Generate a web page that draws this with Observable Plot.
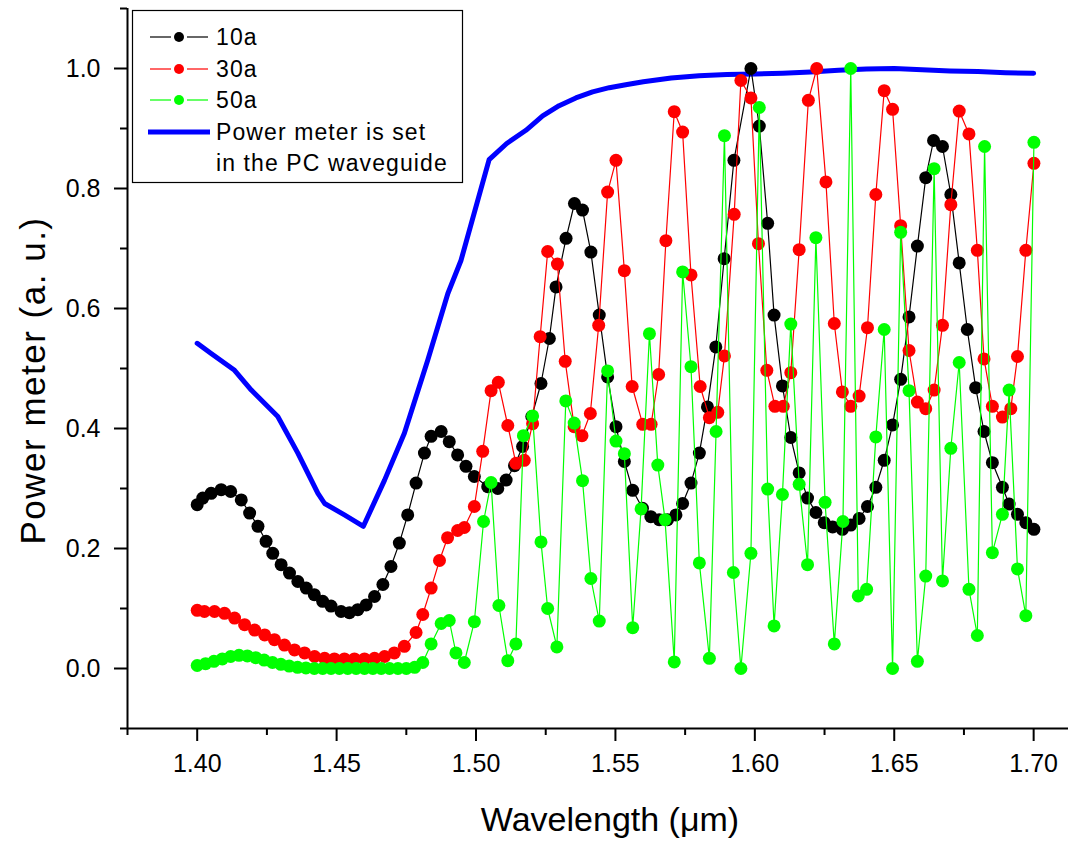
<!DOCTYPE html>
<html><head><meta charset="utf-8">
<script src="https://cdn.jsdelivr.net/npm/d3@7"></script>
<script src="https://cdn.jsdelivr.net/npm/@observablehq/plot@0.6"></script>
<style>
body{margin:0;background:#fff;}
#wrap{position:relative;width:1068px;height:845px;}
#legend{position:absolute;left:0;top:0;pointer-events:none;}
</style></head><body><div id="wrap"></div>
<script>
// Tick values
const xMajor = [1.40,1.45,1.50,1.55,1.60,1.65,1.70];
const xMinor = [1.375,1.425,1.475,1.525,1.575,1.625,1.675];
const yMajor = [0,0.2,0.4,0.6,0.8,1.0];
const yMinor = [-0.1,0.1,0.3,0.5,0.7,0.9,1.1];
const xTitle = "Wavelength (\u03bcm)";
const yTitle = "Power meter (a. u.)";
const legendLabels = ["10a","30a","50a"];
const legendPM = ["Power meter is set","in the PC waveguide"];

// Series: [wavelength (um), normalized power]
const s10 = [[1.400,0.273],[1.402,0.284],[1.405,0.292],[1.4086,0.298],[1.412,0.295],[1.4158,0.281],[1.4188,0.259],[1.4218,0.237],[1.4247,0.212],[1.4271,0.192],[1.4301,0.173],[1.4331,0.159],[1.4361,0.145],[1.4391,0.134],[1.442,0.123],[1.445,0.112],[1.448,0.104],[1.4516,0.095],[1.4546,0.093],[1.4576,0.098],[1.4606,0.106],[1.4636,0.120],[1.4666,0.140],[1.4695,0.170],[1.4725,0.209],[1.4755,0.256],[1.4785,0.309],[1.4815,0.359],[1.4839,0.387],[1.4875,0.395],[1.4904,0.378],[1.4934,0.356],[1.4964,0.337],[1.4994,0.320],[1.5042,0.303],[1.5078,0.300],[1.5108,0.314],[1.5138,0.338],[1.5167,0.370],[1.5200,0.420],[1.5233,0.475],[1.5263,0.550],[1.5287,0.636],[1.5323,0.717],[1.5353,0.775],[1.5382,0.764],[1.5412,0.694],[1.5442,0.589],[1.5472,0.486],[1.5502,0.403],[1.5532,0.345],[1.5562,0.297],[1.5597,0.267],[1.5627,0.253],[1.5657,0.248],[1.5687,0.248],[1.5717,0.256],[1.5741,0.275],[1.5771,0.309],[1.5801,0.359],[1.5830,0.436],[1.5860,0.536],[1.5890,0.683],[1.5925,0.847],[1.5986,1.000],[1.6016,0.904],[1.6046,0.742],[1.6069,0.589],[1.6099,0.471],[1.6129,0.385],[1.6159,0.326],[1.6189,0.284],[1.6219,0.260],[1.6249,0.243],[1.6279,0.236],[1.6314,0.232],[1.6344,0.239],[1.6374,0.250],[1.6404,0.270],[1.6434,0.302],[1.6464,0.347],[1.6494,0.406],[1.6523,0.482],[1.6553,0.586],[1.6583,0.704],[1.6613,0.818],[1.6641,0.880],[1.6673,0.870],[1.6703,0.790],[1.6733,0.676],[1.6762,0.565],[1.6792,0.468],[1.6822,0.395],[1.6852,0.343],[1.6888,0.302],[1.6912,0.274],[1.6942,0.257],[1.6972,0.243],[1.7001,0.232]];

const s30 = [[1.400,0.097],[1.4026,0.095],[1.4062,0.095],[1.4098,0.092],[1.4134,0.084],[1.4170,0.073],[1.4206,0.064],[1.4242,0.056],[1.4277,0.048],[1.4313,0.039],[1.4349,0.031],[1.4385,0.026],[1.4421,0.020],[1.4457,0.017],[1.4492,0.016],[1.4528,0.016],[1.4564,0.016],[1.4600,0.016],[1.4636,0.017],[1.4672,0.020],[1.4707,0.026],[1.4743,0.037],[1.4785,0.060],[1.4809,0.090],[1.4839,0.134],[1.4869,0.180],[1.4898,0.218],[1.4934,0.230],[1.4958,0.235],[1.4994,0.270],[1.5024,0.362],[1.5054,0.463],[1.5080,0.477],[1.5114,0.405],[1.5143,0.342],[1.5173,0.347],[1.5203,0.408],[1.5230,0.553],[1.5257,0.695],[1.5292,0.674],[1.5320,0.512],[1.5352,0.403],[1.5380,0.388],[1.5410,0.425],[1.5440,0.572],[1.5472,0.794],[1.5502,0.847],[1.5532,0.663],[1.5560,0.470],[1.5598,0.407],[1.5628,0.407],[1.5655,0.490],[1.5681,0.713],[1.5711,0.928],[1.5741,0.894],[1.5771,0.656],[1.5804,0.470],[1.5837,0.418],[1.5867,0.427],[1.5891,0.521],[1.5926,0.757],[1.5950,0.980],[1.5986,0.951],[1.6013,0.708],[1.6043,0.497],[1.6072,0.437],[1.6102,0.437],[1.6129,0.493],[1.6159,0.698],[1.6192,0.947],[1.6222,1.000],[1.6255,0.811],[1.6285,0.575],[1.6314,0.461],[1.6344,0.437],[1.6374,0.454],[1.6404,0.568],[1.6434,0.790],[1.6464,0.963],[1.6494,0.932],[1.6523,0.738],[1.6553,0.530],[1.6583,0.444],[1.6613,0.433],[1.6643,0.464],[1.6673,0.572],[1.6703,0.773],[1.6733,0.929],[1.6768,0.891],[1.6798,0.697],[1.6822,0.516],[1.6852,0.437],[1.6888,0.419],[1.6918,0.433],[1.6942,0.520],[1.6972,0.697],[1.7001,0.842]];

const s50 = [[1.400,0.005],[1.403,0.008],[1.406,0.012],[1.409,0.016],[1.412,0.020],[1.415,0.022],[1.418,0.021],[1.421,0.018],[1.424,0.014],[1.427,0.010],[1.430,0.007],[1.433,0.004],[1.436,0.002],[1.439,0.001],[1.442,0.0],[1.445,0.0],[1.448,0.0],[1.451,0.0],[1.454,0.0],[1.457,0.0],[1.460,0.0],[1.463,0.0],[1.466,0.0],[1.469,0.0],[1.472,0.0],[1.475,0.0],[1.478,0.002],[1.4809,0.010],[1.4839,0.041],[1.4875,0.075],[1.4904,0.080],[1.4928,0.026],[1.4958,0.010],[1.4994,0.078],[1.5027,0.245],[1.5054,0.310],[1.5082,0.105],[1.5114,0.013],[1.5143,0.041],[1.5170,0.388],[1.5203,0.421],[1.5233,0.211],[1.5257,0.100],[1.5290,0.036],[1.5322,0.446],[1.5352,0.409],[1.5382,0.313],[1.5412,0.150],[1.5442,0.079],[1.5472,0.496],[1.5502,0.379],[1.5532,0.358],[1.5562,0.068],[1.5592,0.266],[1.5622,0.558],[1.5652,0.339],[1.5678,0.248],[1.5711,0.011],[1.5741,0.661],[1.5771,0.503],[1.5801,0.176],[1.5837,0.017],[1.5861,0.395],[1.5891,0.888],[1.5923,0.160],[1.5950,0.000],[1.5986,0.192],[1.6016,0.935],[1.6046,0.299],[1.6069,0.071],[1.6099,0.290],[1.6129,0.574],[1.6159,0.307],[1.6189,0.173],[1.6219,0.718],[1.6252,0.277],[1.6285,0.041],[1.6316,0.245],[1.6344,1.000],[1.6371,0.121],[1.6401,0.132],[1.6434,0.386],[1.6464,0.565],[1.6494,0.000],[1.6523,0.727],[1.6553,0.463],[1.6583,0.012],[1.6613,0.154],[1.6643,0.833],[1.6673,0.146],[1.6703,0.367],[1.6733,0.510],[1.6768,0.132],[1.6798,0.055],[1.6824,0.870],[1.6852,0.193],[1.6888,0.257],[1.6912,0.464],[1.6942,0.166],[1.6972,0.088],[1.7001,0.877]];

const pm = [[1.400,0.542],[1.405,0.525],[1.4134,0.497],[1.4194,0.464],[1.4289,0.420],[1.4361,0.359],[1.4433,0.292],[1.4457,0.275],[1.4528,0.256],[1.4596,0.237],[1.4672,0.314],[1.4743,0.392],[1.4827,0.514],[1.4899,0.625],[1.4946,0.680],[1.5047,0.848],[1.5110,0.875],[1.5179,0.897],[1.5239,0.921],[1.5298,0.938],[1.5358,0.951],[1.5418,0.961],[1.5478,0.968],[1.5537,0.973],[1.5600,0.978],[1.5700,0.984],[1.5800,0.988],[1.5900,0.990],[1.6000,0.991],[1.6100,0.992],[1.6200,0.994],[1.6300,0.997],[1.6400,0.999],[1.6500,1.000],[1.6600,0.998],[1.6700,0.996],[1.6800,0.995],[1.6900,0.993],[1.7000,0.992]];

const colors = ["#000000","#ff0000","#00ff00"];
const pmColor = "#0000ff";
const FONT = "'Liberation Sans', Arial, Helvetica, sans-serif";

const toObj = arr => arr.map(([wl,p]) => ({wl, p}));
const seriesMarks = [];
[s10, s30, s50].forEach((s, i) => {
  const data = toObj(s);
  seriesMarks.push(Plot.line(data, {x:"wl", y:"p", stroke: colors[i], strokeWidth: 1.2}));
  seriesMarks.push(Plot.dot(data, {x:"wl", y:"p", fill: colors[i], r: 6.5}));
});

const chart = Plot.plot({
  width: 1068, height: 845,
  marginLeft: 127, marginRight: 0, marginTop: 8, marginBottom: 117,
  style: {fontFamily: FONT, fontSize: "25px", background: "#fff", color: "#000"},
  x: {domain: [1.375, 1.7125]},
  y: {domain: [-0.1, 1.1]},
  marks: [
    Plot.line(toObj(pm), {x:"wl", y:"p", stroke: pmColor, strokeWidth: 5, strokeLinejoin: "round"}),
    ...seriesMarks,
    Plot.ruleX([1.375], {stroke: "#000", strokeWidth: 2}),
    Plot.ruleY([-0.1], {stroke: "#000", strokeWidth: 2}),
    Plot.axisX({ticks: xMajor, tickSize: 13, tickPadding: 13, tickFormat: d3.format(".2f"), strokeWidth: 2, fontSize: 25, label: null}),
    Plot.axisX({ticks: xMinor, tickSize: 7, tickFormat: () => "", strokeWidth: 2, label: null}),
    Plot.axisY({ticks: yMajor, tickSize: 13, tickPadding: 14, tickFormat: d3.format(".1f"), strokeWidth: 2, fontSize: 25, label: null}),
    Plot.axisY({ticks: yMinor, tickSize: 7, tickFormat: () => "", strokeWidth: 2, label: null}),
    Plot.text([xTitle], {frameAnchor: "bottom", textAnchor: "middle", dx: 12, dy: 102, fontSize: 34, text: d => d, fill: "#000"}),
    Plot.text([yTitle], {frameAnchor: "left", textAnchor: "middle", rotate: -90, dx: -94, dy: 12, fontSize: 35, text: d => d, fill: "#000"})
  ]
});
const wrap = document.getElementById("wrap");
wrap.appendChild(chart);
// widen the rotated title's letter spacing to match the reference
d3.select(chart).selectAll("text").filter(function() { return this.textContent === yTitle; })
  .attr("letter-spacing", "1.5px");

// Legend overlay
const lg = d3.select(wrap).append("svg").attr("id","legend").attr("width",1068).attr("height",845)
  .style("font-family", FONT);
lg.append("rect").attr("x",132.5).attr("y",10.5).attr("width",330).attr("height",172)
  .attr("fill","#fff").attr("stroke","#000").attr("stroke-width",1.2);
const rowY = [37, 69, 100];
legendLabels.forEach((lab, i) => {
  const y = rowY[i];
  lg.append("line").attr("x1",150).attr("x2",171).attr("y1",y).attr("y2",y).attr("stroke",colors[i]).attr("stroke-width",1.2);
  lg.append("line").attr("x1",187).attr("x2",208).attr("y1",y).attr("y2",y).attr("stroke",colors[i]).attr("stroke-width",1.2);
  lg.append("circle").attr("cx",179).attr("cy",y).attr("r",5).attr("fill",colors[i]);
  lg.append("text").attr("x",216).attr("y",y).attr("dy","0.36em").attr("font-size",23).attr("letter-spacing","1.1px").text(lab);
});
lg.append("line").attr("x1",148).attr("x2",210).attr("y1",132).attr("y2",132).attr("stroke",pmColor).attr("stroke-width",5);
legendPM.forEach((t, i) => {
  lg.append("text").attr("x",216).attr("y",132 + i*31).attr("dy","0.36em").attr("font-size",23).attr("letter-spacing","1.1px").text(t);
});
</script></body></html>
